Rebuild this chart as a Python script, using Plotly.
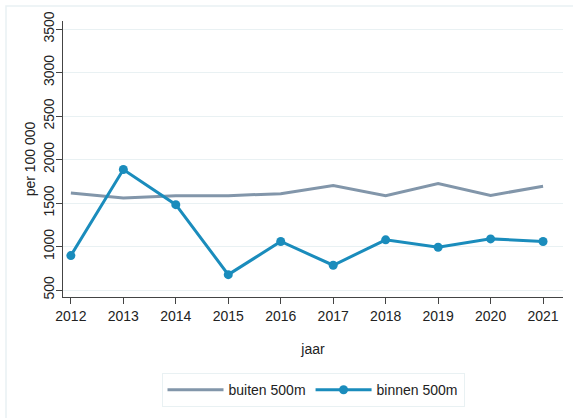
import plotly.graph_objects as go

years = [2012, 2013, 2014, 2015, 2016, 2017, 2018, 2019, 2020, 2021]
buiten = [1615, 1558, 1585, 1585, 1608, 1700, 1585, 1723, 1588, 1692]
binnen = [896, 1885, 1481, 677, 1058, 785, 1077, 992, 1088, 1058]
y_ticks = [500, 1000, 1500, 2000, 2500, 3000, 3500]

c_buiten = "#8296aa"
c_binnen = "#1a8cbc"
grid = "#e9f1f3"
FONT = "Liberation Sans, Arial, sans-serif"

fig = go.Figure()
fig.add_trace(go.Scatter(x=years, y=buiten, mode="lines", name="buiten 500m",
                         line=dict(color=c_buiten, width=3)))
fig.add_trace(go.Scatter(x=years, y=binnen, mode="lines+markers", name="binnen 500m",
                         line=dict(color=c_binnen, width=3),
                         marker=dict(color=c_binnen, size=9)))

fig.update_layout(
    width=573, height=418,
    margin=dict(l=63, r=10, t=21, b=121, autoexpand=False),
    paper_bgcolor="white", plot_bgcolor="white",
    font=dict(family=FONT, size=14, color="#222"),
    showlegend=True,
    legend=dict(orientation="h", x=0.5, xanchor="center", y=-0.276, yanchor="top",
                bordercolor=grid, borderwidth=1, font=dict(family=FONT, size=14, color="#222"),
                itemwidth=56, tracegroupgap=0),
    xaxis=dict(range=[2011.85, 2021.38], tickvals=years, showgrid=False,
               showline=True, linecolor="#444", linewidth=1,
               ticks="outside", ticklen=6, tickcolor="#444",
               tickfont=dict(family=FONT, size=14, color="#222"),
               title=dict(text="jaar", standoff=21, font=dict(family=FONT, size=14, color="#222")),
               zeroline=False, automargin=False),
    yaxis=dict(range=[420, 3592], tickvals=y_ticks, tickangle=-90,
               showgrid=True, gridcolor=grid, gridwidth=1,
               showline=True, linecolor="#444", linewidth=1,
               ticks="outside", ticklen=6, tickcolor="#444", ticklabelstandoff=-4,
               tickfont=dict(family=FONT, size=14, color="#222"),
               title=dict(text="per 100 000", standoff=2, font=dict(family=FONT, size=14, color="#222")),
               zeroline=False, automargin=False),
    shapes=[dict(type="rect", xref="paper", yref="paper",
                 x0=-0.114, x1=1.1, y0=-0.5, y1=1.054,
                 line=dict(color=grid, width=1.5), fillcolor="rgba(0,0,0,0)", layer="below")],
)

fig.write_html("out.html", config={"displayModeBar": False},
               post_script="document.body.style.margin='0';document.body.style.overflow='hidden';")
